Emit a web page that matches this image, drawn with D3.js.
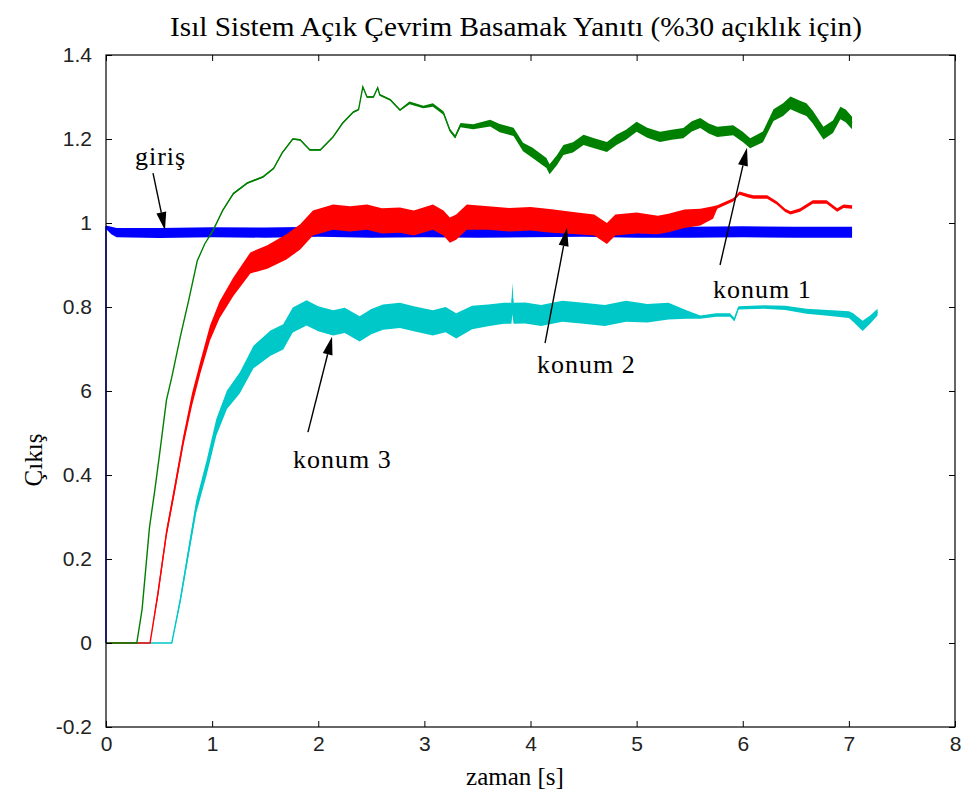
<!DOCTYPE html>
<html>
<head>
<meta charset="utf-8">
<script src="https://cdn.jsdelivr.net/npm/d3@7"></script>
<style>
body { margin: 0; background: #fff; }
.axis .domain { display: none; }
.axis line { stroke: #000; }
.axis text { fill: #222; font-family: "Liberation Sans", Arial, sans-serif; font-size: 21px; }
.note { font-family: "Liberation Serif", "Times New Roman", serif; font-size: 26px; letter-spacing: 1px; fill: #000; }
</style>
</head>
<body>
<svg id="chart" width="969" height="800"></svg>
<script>
// axis ticks
var xTicks = [0, 1, 2, 3, 4, 5, 6, 7, 8];
var yTicks = [-0.2, 0, 0.2, 0.4, 0.6, 0.8, 1, 1.2, 1.4];
var yTickLabels = ["-0.2", "0", "0.2", "0.4", "6", "0.8", "1", "1.2", "1.4"];

// giris (input, blue)
var girisTime   = [0, 0, 0.05, 0.1, 0.5, 1.0, 1.5, 2.0, 2.5, 3.0, 3.5, 4.0, 4.5, 5.0, 5.5, 6.0, 6.5, 7.03];
var girisValue  = [0, 0.99, 0.982, 0.977, 0.976, 0.978, 0.977, 0.979, 0.977, 0.978, 0.977, 0.978, 0.979, 0.977, 0.978, 0.979, 0.978, 0.978];
var girisSpread = [0, 0.004, 0.009, 0.011, 0.012, 0.012, 0.012, 0.012, 0.012, 0.012, 0.012, 0.012, 0.012, 0.012, 0.013, 0.013, 0.013, 0.013];

// konum 3 (cyan)
var konum3Time   = [0, 0.62, 0.70, 0.78, 0.85, 0.95, 1.04, 1.14, 1.26, 1.39, 1.55, 1.67, 1.76, 1.89, 2.0, 2.14, 2.25, 2.39, 2.5, 2.61, 2.77, 2.9, 3.08, 3.2, 3.3, 3.45, 3.6, 3.75, 3.82, 3.83, 3.84, 3.95, 4.1, 4.3, 4.5, 4.7, 4.9, 5.1, 5.3, 5.47, 5.6, 5.75, 5.88, 5.92, 5.96, 6.2, 6.4, 6.6, 6.8, 7.0, 7.04, 7.13, 7.2, 7.27];
var konum3Value  = [0, 0, 0.102, 0.221, 0.324, 0.419, 0.514, 0.579, 0.619, 0.681, 0.714, 0.729, 0.769, 0.786, 0.772, 0.762, 0.768, 0.748, 0.765, 0.776, 0.78, 0.772, 0.762, 0.77, 0.755, 0.775, 0.78, 0.785, 0.785, 0.82, 0.785, 0.786, 0.78, 0.79, 0.785, 0.78, 0.79, 0.785, 0.79, 0.782, 0.776, 0.781, 0.781, 0.77, 0.798, 0.8, 0.798, 0.79, 0.786, 0.782, 0.775, 0.755, 0.77, 0.788];
var konum3Spread = [0, 0, 0.008, 0.012, 0.015, 0.018, 0.02, 0.022, 0.025, 0.027, 0.03, 0.03, 0.03, 0.03, 0.03, 0.03, 0.03, 0.03, 0.03, 0.03, 0.03, 0.03, 0.03, 0.03, 0.03, 0.028, 0.026, 0.025, 0.025, 0.037, 0.025, 0.025, 0.025, 0.025, 0.025, 0.025, 0.025, 0.022, 0.02, 0.01, 0.004, 0.004, 0.004, 0.004, 0.004, 0.004, 0.005, 0.006, 0.007, 0.008, 0.01, 0.012, 0.01, 0.008];

// konum 2 (red)
var konum2Time   = [0, 0.415, 0.49, 0.57, 0.65, 0.73, 0.81, 0.89, 0.98, 1.07, 1.20, 1.36, 1.52, 1.70, 1.83, 1.95, 2.14, 2.3, 2.46, 2.6, 2.77, 2.9, 3.08, 3.18, 3.24, 3.30, 3.40, 3.6, 3.8, 4.0, 4.2, 4.4, 4.6, 4.72, 4.8, 5.0, 5.2, 5.3, 5.45, 5.6, 5.72, 5.76, 5.91, 5.97, 6.05, 6.10, 6.23, 6.32, 6.40, 6.45, 6.54, 6.66, 6.79, 6.89, 6.95, 7.03];
var konum2Value  = [0, 0, 0.119, 0.262, 0.371, 0.483, 0.579, 0.657, 0.738, 0.793, 0.848, 0.905, 0.919, 0.943, 0.967, 1.0, 1.014, 1.01, 1.014, 1.005, 1.007, 1.0, 1.014, 1.0, 0.983, 0.99, 1.014, 1.012, 1.008, 1.01, 1.005, 1.0, 0.995, 0.975, 0.995, 1.0, 0.995, 1.0, 1.01, 1.014, 1.025, 1.038, 1.055, 1.071, 1.065, 1.062, 1.062, 1.048, 1.03, 1.024, 1.031, 1.05, 1.05, 1.031, 1.04, 1.038];
var konum2Spread = [0, 0, 0.01, 0.01, 0.012, 0.012, 0.015, 0.015, 0.018, 0.02, 0.022, 0.025, 0.028, 0.03, 0.03, 0.03, 0.03, 0.03, 0.03, 0.03, 0.03, 0.03, 0.03, 0.03, 0.03, 0.03, 0.03, 0.028, 0.028, 0.028, 0.028, 0.026, 0.025, 0.025, 0.025, 0.025, 0.022, 0.022, 0.022, 0.02, 0.015, 0.004, 0.004, 0.004, 0.004, 0.004, 0.004, 0.004, 0.004, 0.004, 0.004, 0.004, 0.004, 0.004, 0.004, 0.004];

// konum 1 (green)
var konum1Time   = [0, 0.29, 0.34, 0.41, 0.46, 0.51, 0.57, 0.62, 0.70, 0.78, 0.86, 0.93, 1.01, 1.10, 1.20, 1.33, 1.48, 1.58, 1.66, 1.76, 1.83, 1.92, 2.02, 2.14, 2.23, 2.33, 2.38, 2.42, 2.46, 2.52, 2.56, 2.58, 2.68, 2.77, 2.86, 2.99, 3.08, 3.18, 3.24, 3.29, 3.34, 3.46, 3.62, 3.71, 3.84, 3.93, 4.02, 4.15, 4.18, 4.25, 4.31, 4.40, 4.50, 4.60, 4.72, 4.81, 4.90, 5.0, 5.10, 5.22, 5.33, 5.44, 5.52, 5.60, 5.68, 5.76, 5.91, 6.0, 6.07, 6.19, 6.29, 6.38, 6.45, 6.54, 6.60, 6.66, 6.76, 6.85, 6.92, 6.97, 7.03];
var konum1Value  = [0, 0, 0.08, 0.276, 0.364, 0.46, 0.579, 0.633, 0.729, 0.817, 0.91, 0.95, 0.983, 1.03, 1.07, 1.095, 1.11, 1.13, 1.167, 1.20, 1.198, 1.174, 1.174, 1.205, 1.238, 1.264, 1.27, 1.324, 1.30, 1.30, 1.322, 1.305, 1.293, 1.269, 1.286, 1.276, 1.281, 1.262, 1.221, 1.205, 1.233, 1.229, 1.238, 1.226, 1.217, 1.181, 1.167, 1.143, 1.128, 1.15, 1.174, 1.18, 1.198, 1.19, 1.181, 1.198, 1.21, 1.229, 1.215, 1.205, 1.21, 1.214, 1.23, 1.238, 1.225, 1.217, 1.221, 1.205, 1.19, 1.205, 1.257, 1.27, 1.286, 1.276, 1.27, 1.252, 1.214, 1.229, 1.262, 1.255, 1.238];
var konum1Spread = [0, 0, 0, 0, 0, 0, 0, 0, 0, 0, 0, 0, 0, 0.002, 0.002, 0.002, 0.002, 0.002, 0.002, 0.002, 0.002, 0.002, 0.002, 0.002, 0.002, 0.002, 0.002, 0.002, 0.002, 0.002, 0.002, 0.002, 0.002, 0.002, 0.003, 0.003, 0.004, 0.004, 0.004, 0.004, 0.005, 0.006, 0.008, 0.01, 0.01, 0.01, 0.012, 0.012, 0.012, 0.012, 0.012, 0.012, 0.012, 0.012, 0.012, 0.012, 0.012, 0.012, 0.012, 0.012, 0.012, 0.012, 0.012, 0.012, 0.012, 0.012, 0.012, 0.012, 0.012, 0.013, 0.014, 0.015, 0.015, 0.015, 0.015, 0.015, 0.015, 0.015, 0.015, 0.015, 0.015];

// annotations: text anchor (t, v) and arrow tail -> tip, in data units
var noteLabels = ["giriş", "konum 1", "konum 2", "konum 3"];
var noteTextT  = [0.273, 5.72, 4.061, 1.762];
var noteTextV  = [1.138, 0.821, 0.643, 0.417];
var arrowFromT = [0.443, 5.786, 4.137, 1.903];
var arrowFromV = [1.119, 0.900, 0.714, 0.502];
var arrowToT   = [0.556, 6.04, 4.344, 2.13];
var arrowToV   = [0.983, 1.179, 0.988, 0.729];

var svg = d3.select("#chart");
var plotLeft = 106, plotRight = 955, plotTop = 55, plotBottom = 727;

var x = d3.scaleLinear().domain([0, 8]).range([plotLeft, plotRight]);
var y = d3.scaleLinear().domain([-0.2, 1.4]).range([plotBottom, plotTop]);

svg.append("rect").attr("width", 969).attr("height", 800).attr("fill", "#fff");

// series
function drawSeries(t, v, w, color) {
    var pts = t.map(function (d, i) { return { t: d, v: v[i], w: w[i] }; });
    var area = d3.area()
        .x(function (d) { return x(d.t); })
        .y0(function (d) { return y(d.v - d.w); })
        .y1(function (d) { return y(d.v + d.w); });
    var line = d3.line()
        .x(function (d) { return x(d.t); })
        .y(function (d) { return y(d.v); });
    svg.append("path").datum(pts)
        .attr("d", area)
        .attr("fill", color);
    svg.append("path").datum(pts)
        .attr("d", line)
        .attr("fill", "none")
        .attr("stroke", color)
        .attr("stroke-width", 1.4);
}

drawSeries(girisTime, girisValue, girisSpread, "#0000ff");
drawSeries(konum3Time, konum3Value, konum3Spread, "#00c8c8");
drawSeries(konum2Time, konum2Value, konum2Spread, "#ff0000");
drawSeries(konum1Time, konum1Value, konum1Spread, "#008000");

// frame and axes
svg.append("rect")
    .attr("x", plotLeft).attr("y", plotTop)
    .attr("width", plotRight - plotLeft).attr("height", plotBottom - plotTop)
    .attr("fill", "none").attr("stroke", "#000").attr("stroke-width", 1.2);

svg.append("g").attr("class", "axis")
    .attr("transform", "translate(0," + plotBottom + ")")
    .call(d3.axisBottom(x).tickValues(xTicks).tickSizeInner(-6).tickSizeOuter(0).tickPadding(9).tickFormat(d3.format("d")));
svg.append("g").attr("class", "axis")
    .attr("transform", "translate(0," + plotTop + ")")
    .call(d3.axisTop(x).tickValues(xTicks).tickSizeInner(-6).tickSizeOuter(0).tickFormat(""));
svg.append("g").attr("class", "axis")
    .attr("transform", "translate(" + plotLeft + ",0)")
    .call(d3.axisLeft(y).tickValues(yTicks).tickSizeInner(-6).tickSizeOuter(0).tickPadding(14)
        .tickFormat(function (d, i) { return yTickLabels[i]; }));
svg.append("g").attr("class", "axis")
    .attr("transform", "translate(" + plotRight + ",0)")
    .call(d3.axisRight(y).tickValues(yTicks).tickSizeInner(-6).tickSizeOuter(0).tickFormat(""));
svg.selectAll(".axis").attr("font-family", null).attr("font-size", null);

// annotations
noteLabels.forEach(function (label, i) {
    svg.append("text").attr("class", "note")
        .attr("x", x(noteTextT[i])).attr("y", y(noteTextV[i]))
        .text(label);
    var x0 = x(arrowFromT[i]), y0 = y(arrowFromV[i]);
    var x1 = x(arrowToT[i]), y1 = y(arrowToV[i]);
    var ang = Math.atan2(y1 - y0, x1 - x0);
    var len = 18, half = 5;
    var bx = x1 - len * Math.cos(ang), by = y1 - len * Math.sin(ang);
    svg.append("line")
        .attr("x1", x0).attr("y1", y0).attr("x2", bx).attr("y2", by)
        .attr("stroke", "#000").attr("stroke-width", 1.4);
    svg.append("path")
        .attr("d", "M" + x1 + "," + y1 +
            "L" + (bx + half * Math.sin(ang)) + "," + (by - half * Math.cos(ang)) +
            "L" + (bx - half * Math.sin(ang)) + "," + (by + half * Math.cos(ang)) + "Z")
        .attr("fill", "#000");
});

// titles
svg.append("text")
    .attr("x", 516).attr("y", 36)
    .attr("text-anchor", "middle")
    .attr("font-family", "'Liberation Serif', 'Times New Roman', serif")
    .attr("font-size", 27)
    .attr("textLength", 692).attr("lengthAdjust", "spacingAndGlyphs")
    .text("Isıl Sistem Açık Çevrim Basamak Yanıtı (%30 açıklık için)");

svg.append("text")
    .attr("x", 515).attr("y", 785)
    .attr("text-anchor", "middle")
    .attr("font-family", "'Liberation Serif', 'Times New Roman', serif")
    .attr("font-size", 25)
    .text("zaman [s]");

svg.append("text")
    .attr("transform", "translate(42,460) rotate(-90)")
    .attr("text-anchor", "middle")
    .attr("font-family", "'Liberation Serif', 'Times New Roman', serif")
    .attr("font-size", 25)
    .text("Çıkış");
</script>
</body>
</html>
